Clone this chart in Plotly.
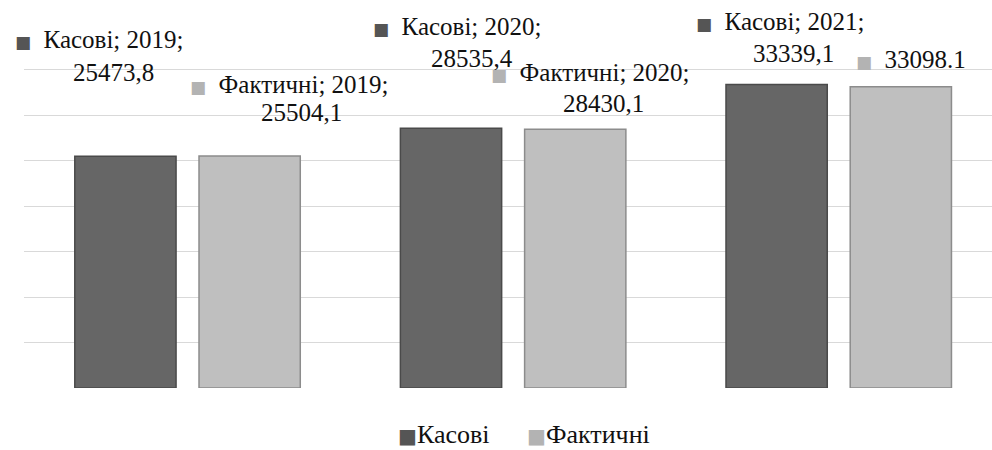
import plotly.graph_objects as go

years = ["2019", "2020", "2021"]
kasovi = [25473.8, 28535.4, 33339.1]
faktychni = [25504.1, 28430.1, 33098.1]
kasovi_labels = ["25473,8", "28535,4", "33339,1"]
faktychni_labels = ["25504,1", "28430,1", "33098.1"]
series_names = ["Касові", "Фактичні"]

DARK = "#666666"
LIGHT = "#bfbfbf"
KEY_DARK = "#555555"
KEY_LIGHT = "#b3b3b3"
FONT = "Liberation Serif"

W, H = 992, 450
ML, MT, MB = 24, 24, 62
PW = W - ML
PH = H - MT - MB
CAT_W = 325.6  # px per category
x_idx = list(range(len(years)))

fig = go.Figure()
fig.add_trace(go.Bar(
    x=x_idx, y=kasovi, name=series_names[0], width=0.311, offset=-0.344,
    marker=dict(color=DARK, line=dict(color="#4a4a4a", width=1.5)),
    hoverinfo="y",
))
fig.add_trace(go.Bar(
    x=x_idx, y=faktychni, name=series_names[1], width=0.311, offset=0.0375,
    marker=dict(color=LIGHT, line=dict(color="#8c8c8c", width=1.5)),
    hoverinfo="y",
))

def px_to_paper(px, py):
    return (px - ML) / PW, (H - MB - py) / PH

def sq(color, size=17, gap="  "):
    return (f'<span style="font-family:DejaVu Sans;font-size:{size}px;fill:{color}">■</span>'
            f'{gap}')

# label layout (pixel centres of each text line)
label_lines = [
    (sq(KEY_DARK) + f"{series_names[0]}; {years[0]};", 99.5, 40),
    (kasovi_labels[0], 113, 72),
    (sq(KEY_LIGHT) + f"{series_names[1]}; {years[0]};", 289, 85),
    (faktychni_labels[0], 301.5, 112),
    (sq(KEY_DARK) + f"{series_names[0]}; {years[1]};", 457.5, 27),
    (kasovi_labels[1], 472, 58),
    (sq(KEY_LIGHT) + f"{series_names[1]}; {years[1]};", 590.5, 73),
    (faktychni_labels[1], 603.5, 103),
    (sq(KEY_DARK) + f"{series_names[0]}; {years[2]};", 780, 21),
    (kasovi_labels[2], 793.5, 53),
    (sq(KEY_LIGHT) + faktychni_labels[2], 911, 59),
]
for text, cx, cy in label_lines:
    ax, ay = px_to_paper(cx, cy)
    fig.add_annotation(
        x=ax, y=ay, xref="paper", yref="paper", text=text, showarrow=False,
        xanchor="center", yanchor="middle", borderpad=0,
        font=dict(family=FONT, size=25, color="#111111"),
    )

# legend (drawn as text so it keeps the tight key-to-text spacing of the original)
legend_items = [(series_names[0], KEY_DARK, 444), (series_names[1], KEY_LIGHT, 588.5)]
for name, color, cx in legend_items:
    ax, ay = px_to_paper(cx, 434)
    fig.add_annotation(
        x=ax, y=ay, xref="paper", yref="paper", text=sq(color, 20, "") + name,
        showarrow=False, xanchor="center", yanchor="middle", borderpad=0,
        font=dict(family=FONT, size=26, color="#111111"),
    )

fig.update_layout(
    width=W, height=H,
    margin=dict(l=ML, r=0, t=MT, b=MB),
    paper_bgcolor="white", plot_bgcolor="white",
    barmode="group",
    showlegend=False,
    xaxis=dict(range=[-0.5, -0.5 + PW / CAT_W], showticklabels=False, showgrid=False,
               zeroline=False, showline=False, ticks=""),
    yaxis=dict(range=[0, 40000], dtick=5000, showticklabels=False, showgrid=True,
               gridcolor="#d9d9d9", gridwidth=1.3, zeroline=False, showline=False, ticks=""),
)

fig.write_html("out.html", config={"displayModeBar": False},
               post_script="document.body.style.margin='0';")
